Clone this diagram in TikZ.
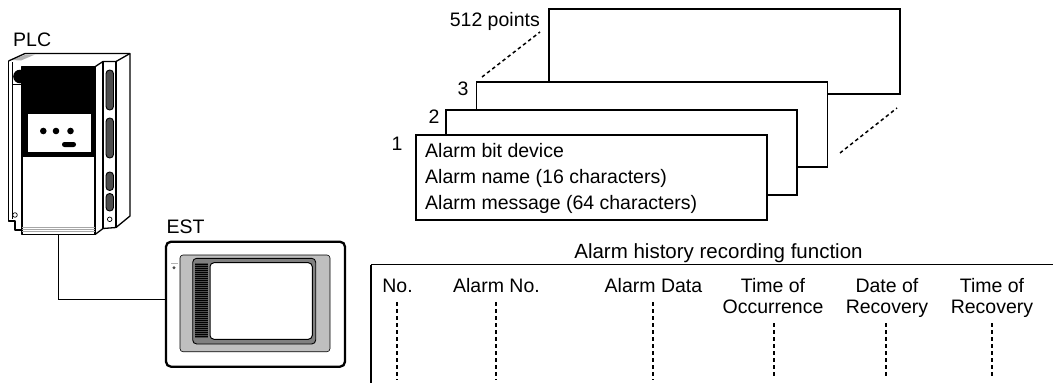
\documentclass[tikz,border=0pt]{standalone}
\usepackage{fontspec}
\setmainfont{Liberation Sans}
\begin{document}
\begin{tikzpicture}[x=1pt,y=-1pt,
  lbl/.style={inner sep=0pt,font=\fontsize{19.5}{23}\selectfont},
  card/.style={draw,fill=white,line width=1.5pt,minimum width=351pt,minimum height=85pt,inner sep=0pt},
  vdash/.style={line width=2pt,dash pattern=on 4pt off 3pt},
  slant/.style={line width=1.5pt,dash pattern=on 3.5pt off 3pt},
  plcline/.style={line width=1.3pt,line join=round},
  slot/.style={draw,line width=0.9pt,fill=black!70,rounded corners=3.6pt}]
\useasboundingbox (0,0) rectangle (1053,389);

% ---------------- PLC ----------------
\node[lbl,anchor=base west] (plc) at (13,46) {PLC};
% left side panel
\fill[gray!60] (12,60) -- (26,54.5) -- (35,54.5) -- (21,60.5) -- cycle;
\draw[plcline] (8.5,61) -- (25,53.5) -- (130,53.5) -- (130,216) -- (116,227.5);
\draw[plcline] (8.5,61) -- (8.5,221) -- (15,221) -- (15,230) -- (22,230);
\draw[line width=0.8pt] (12,62) -- (12,219);
\draw[line width=0.8pt] (12,84) -- (22,84);
\draw[line width=0.7pt] (15,215) circle (2.3);
% front panel
\draw[plcline,fill=white] (22,66.7) rectangle (95,234.5);
\fill (22,66.7) rectangle (95,156.5);
\fill (20,76.5) circle (6.8);
\fill[white] (27.5,113.5) rectangle (90.5,151.5);
\foreach \dx in {43.3,56,70.5} \fill (\dx,131) circle (3.3);
\fill[rounded corners=2.4pt] (62,142) rectangle (76,147);
\foreach \sy in {227.3,229.5,231.7} \draw[gray!70,line width=0.8pt] (22,\sy) -- (95,\sy);
\draw[plcline] (22,234.5) -- (95,234.5);
% rail on the right side
\draw[plcline] (95,66.7) -- (103,61.5) -- (116,61.5) -- (130,53.5);
\draw[plcline] (103,61.5) -- (103,228.5);
\draw[plcline] (116,61.5) -- (116,227.5);
\draw[plcline] (95,234.5) -- (103,228.5) -- (116,227.5);
\draw[slot] (106,70) rectangle (113.5,110);
\draw[slot] (106,118) rectangle (113.5,158);
\draw[slot] (106,172) rectangle (113.5,190.5);
\draw[slot] (106,193.5) rectangle (113.5,211);
\draw[line width=0.7pt] (109.7,219.3) circle (2.3);
\coordinate (plcout) at (58.3,234.5);

% ---------------- EST ----------------
\node[lbl,anchor=base west] (estlbl) at (166.5,233.3) {EST};
\node[draw,line width=2.3pt,rounded corners=5pt,minimum width=179pt,minimum height=125pt,inner sep=0pt] (est) at (255.5,304.2) {};
\draw[line width=0.6pt,fill=black!25,rounded corners=3pt] (180,255) rectangle (330,351.7);
\draw[line width=0.9pt,fill=black!50,rounded corners=4pt] (192.7,258.3) rectangle (315.7,344);
\fill[black!70] (195,263) rectangle (208.3,338);
\foreach \k in {0,...,36} \draw[line width=0.5pt] (195,263.8+2*\k) -- (208.3,263.8+2*\k);
\draw[line width=1pt,fill=white,rounded corners=4pt] (210,262.7) rectangle (312.3,339.3);
\draw[gray!60,line width=0.9pt] (171,263.3) -- (178,263.3);
\fill[black!70] (174,267.8) circle (1.6);
\coordinate (estin) at (166,299.5);
\draw[line width=1.3pt] (plcout) -- (plcout |- estin) -- (estin);

% ---------------- alarm cards ----------------
\node[card] (card4) at (724.5,51.5) {};
\node[card] (card3) at (652,124.5) {};
\node[card] (card2) at (621.5,152.5) {};
\node[card] (card1) at (591.5,177.5) {};
\node[lbl,anchor=base] (n1) at (397,150) {1};
\node[lbl,anchor=base] (n2) at (434,123) {2};
\node[lbl,anchor=base] (n3) at (463,95) {3};
\node[lbl,anchor=base east] (n512) at (540,26.7) {512 points};
\node[lbl,anchor=base west] (l1) at (425,157.7) {Alarm bit device};
\node[lbl,anchor=base west] (l2) at (425,183.7) {Alarm name (16 characters)};
\node[lbl,anchor=base west] (l3) at (425,209.5) {Alarm message (64 characters)};
\draw[slant] (482,77) -- (540,32);
\draw[slant] (840,153) -- (897,108);

% ---------------- history table ----------------
\node[lbl,anchor=base,font=\fontsize{20.5}{24}\selectfont] (title) at (718.5,258) {Alarm history recording function};
\coordinate (tl) at (371,264.5);
\coordinate (tr) at (1053,264.5);
\coordinate (bl) at (371,383);
\draw[line width=1.6pt] (tr) -- (tl);
\draw[line width=1.3pt] (tl) -- (bl);
\node[lbl,anchor=base] (hno) at (397.5,292) {No.};
\node[lbl,anchor=base] (halno) at (496.5,292) {Alarm No.};
\node[lbl,anchor=base] (hdata) at (653.5,292) {Alarm Data};
\node[lbl,anchor=base] (hto) at (773,292) {Time of};
\node[lbl,anchor=base] (hto2) at (773,313) {Occurrence};
\node[lbl,anchor=base] (hdr) at (887,292) {Date of};
\node[lbl,anchor=base] (hdr2) at (887,313) {Recovery};
\node[lbl,anchor=base] (htr) at (992,292) {Time of};
\node[lbl,anchor=base] (htr2) at (992,313) {Recovery};
\foreach \cx in {397,496,653} \draw[vdash] (\cx,302) -- (\cx,380);
\foreach \cx in {774,886,992} \draw[vdash] (\cx,323) -- (\cx,377);
\end{tikzpicture}
\end{document}
